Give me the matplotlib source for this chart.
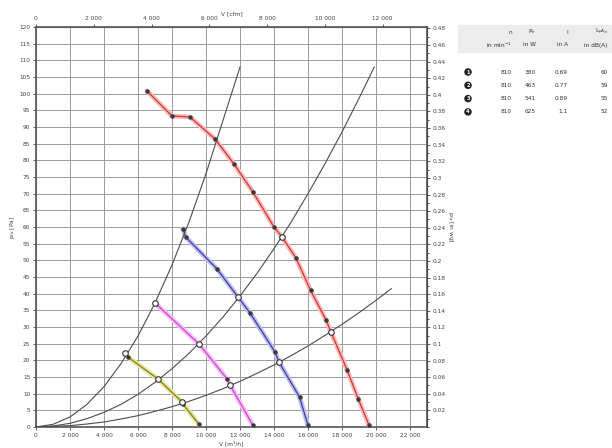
import matplotlib.pyplot as plt
import matplotlib.patches as mpatches
from matplotlib.ticker import FuncFormatter, MultipleLocator

# fan curves: air flow in m3/h, static pressure in Pa
red_q = [6530, 8000, 9060, 10530, 11650, 12760, 14000, 14470, 15290, 16150, 17060, 17350, 18300, 18950, 19590]
red_p = [100.8, 93.3, 93.0, 86.4, 78.9, 70.5, 60.0, 57.0, 50.7, 41.0, 32.1, 28.5, 17.1, 8.5, 0.5]
blue_q = [8650, 8800, 10650, 11880, 12590, 14060, 14290, 15500, 16000]
blue_p = [59.4, 57.0, 47.4, 39.0, 34.2, 22.5, 19.5, 9.0, 0.5]
mag_q = [7000, 9590, 11240, 11410, 12760]
mag_p = [37.2, 24.9, 14.4, 12.6, 0.5]
oli_q = [5240, 5400, 7180, 8590, 8650, 9590]
oli_p = [22.2, 21.0, 14.4, 7.5, 6.8, 0.8]

# system resistance curves
sysA_q = [0, 1000, 2000, 3000, 4000, 5000, 6000, 7000, 8000, 9000, 10000, 11000, 12000]
sysA_p = [0, 0.8, 3.0, 6.8, 12.1, 19.0, 27.3, 37.2, 48.6, 61.5, 76.0, 92.0, 108.0]
sysB_q = [0, 1000, 2000, 3000, 4000, 5000, 6000, 7000, 8000, 9000, 10000, 11000, 12000, 13000,
          14000, 15000, 16000, 17000, 18000, 19000, 19900]
sysB_p = [0, 0.3, 1.1, 2.5, 4.4, 6.8, 9.8, 13.4, 17.5, 22.1, 27.3, 33.0, 39.3, 46.1,
          53.5, 61.4, 70.0, 79.0, 88.5, 98.6, 108.0]
sysC_q = [0, 2000, 3000, 4000, 5000, 6000, 7000, 8000, 9000, 10000, 11000, 12000, 13000, 14000,
          15000, 16000, 17000, 18000, 19000, 20000, 20900]
sysC_p = [0, 0.4, 0.9, 1.5, 2.4, 3.4, 4.7, 6.1, 7.7, 9.5, 11.5, 13.7, 16.1, 18.6,
          21.4, 24.3, 27.5, 30.8, 34.3, 38.0, 41.5]

# operating points (intersections) drawn as open circles
op_q = [14470, 17350, 11880, 14290, 9590, 11410, 7180, 8590, 7000, 5240]
op_p = [57.0, 28.5, 39.0, 19.5, 24.9, 12.6, 14.4, 7.5, 37.2, 22.2]

x_ticks = [0, 2000, 4000, 6000, 8000, 10000, 12000, 14000, 16000, 18000, 20000, 22000]
cfm_ticks = [0, 2000, 4000, 6000, 8000, 10000, 12000]
inwg_ticks = [0.02, 0.04, 0.06, 0.08, 0.1, 0.12, 0.14, 0.16, 0.18, 0.2, 0.22, 0.24,
              0.26, 0.28, 0.3, 0.32, 0.34, 0.36, 0.38, 0.4, 0.42, 0.44, 0.46, 0.48]

tbl_head1 = ["n", "P$_e$", "I", "L$_{pA_{in}}$"]
tbl_head2 = ["in min$^{-1}$", "in W", "in A", "in dB(A)"]
tbl_rows = [["810", "380", "0.69", "60"],
            ["810", "463", "0.77", "59"],
            ["810", "541", "0.89", "55"],
            ["810", "625", "1.1", "52"]]

plt.rcParams['font.family'] = ['DejaVu Sans']
fig = plt.figure(figsize=(6.12, 4.48), dpi=100)
ax = fig.add_axes([36 / 612, 21 / 448, 391 / 612, 400 / 448])

fs = 4.2
grid_c = '#9a9a9a'

# fan curves: light halo + darker line
curves = [(red_q, red_p, '#d9332f', '#f7bcbc'),
          (blue_q, blue_p, '#3b3ba6', '#c0c0ec'),
          (mag_q, mag_p, '#d640d6', '#f4c0f4'),
          (oli_q, oli_p, '#7e7e22', '#e6e69a')]
for q, p, c, halo in curves:
    ax.plot(q, p, color=halo, lw=3.5, solid_capstyle='round', zorder=3)
    ax.plot(q, p, color=c, lw=0.9, zorder=4, marker='o', ms=2.2,
            mfc='#3a3a3a', mec='#3a3a3a')

for q, p in [(sysA_q, sysA_p), (sysB_q, sysB_p), (sysC_q, sysC_p)]:
    ax.plot(q, p, color='#4d4d4d', lw=0.8, zorder=5)

ax.plot(op_q, op_p, ls='none', marker='o', ms=4, mfc='white', mec='#333333', mew=0.8, zorder=6)

ax.set_xlim(0, 23000)
ax.set_ylim(0, 120)
ax.set_xticks(x_ticks)
ax.yaxis.set_major_locator(MultipleLocator(5))
ax.grid(True, color=grid_c, lw=0.7)
ax.set_axisbelow(True)
ax.xaxis.set_major_formatter(FuncFormatter(lambda v, _: f"{int(v):,}".replace(",", " ")))
ax.tick_params(labelsize=fs, length=2, width=0.6, pad=2, colors='#444444')
for s in ax.spines.values():
    s.set_color('#555555')
    s.set_linewidth(1.2)

ax.set_xlabel("V [m³/h]", fontsize=fs, color='#444444')
ax.xaxis.set_label_coords(0.5, -0.033)
ax.set_ylabel("p$_{fa}$ [Pa]", fontsize=fs, labelpad=2, color='#444444')

top = ax.secondary_xaxis('top', functions=(lambda v: v / 1.699, lambda v: v * 1.699))
top.set_xticks(cfm_ticks)
top.xaxis.set_major_formatter(FuncFormatter(lambda v, _: f"{int(v):,}".replace(",", " ")))
top.tick_params(labelsize=fs, length=2, width=0.6, pad=2, colors='#444444')
top.set_xlabel("V [cfm]", fontsize=fs, labelpad=1, color='#444444')

right = ax.secondary_yaxis('right', functions=(lambda v: v / 249.09, lambda v: v * 249.09))
right.set_yticks(inwg_ticks)
right.yaxis.set_major_formatter(FuncFormatter(lambda v, _: f"{v:g}"))
right.yaxis.set_minor_locator(MultipleLocator(0.01))
right.tick_params(labelsize=fs, length=2, width=0.6, pad=2, colors='#444444')
right.tick_params(which='minor', length=1.2, width=0.5)
right.set_ylabel("p$_{fa}$ [in wg]", fontsize=fs, rotation=270, labelpad=7, color='#444444')

# operating data table
fig.patches.append(mpatches.Rectangle((458 / 612, 1 - 52 / 448), 154 / 612, 27 / 448,
                                      transform=fig.transFigure, color='#ececec', zorder=0))
col_x = [512, 536, 568, 608]
for i in range(4):
    fig.text(col_x[i] / 612, 1 - 32 / 448, tbl_head1[i], fontsize=fs, ha='right', va='center', color='#333333')
    fig.text(col_x[i] / 612, 1 - 45 / 448, tbl_head2[i], fontsize=fs, ha='right', va='center', color='#333333')
for r, row in enumerate(tbl_rows):
    y = 1 - (72 + 13.3 * r) / 448
    fig.text(468 / 612, y, str(r + 1), fontsize=3.6, ha='center', va='center', color='white',
             fontweight='bold', bbox=dict(boxstyle='circle,pad=0.25', fc='#222222', ec='none'))
    for i, v in enumerate(row):
        fig.text(col_x[i] / 612, y, v, fontsize=fs, ha='right', va='center', color='#333333')

fig.savefig("out.png", dpi=100)
